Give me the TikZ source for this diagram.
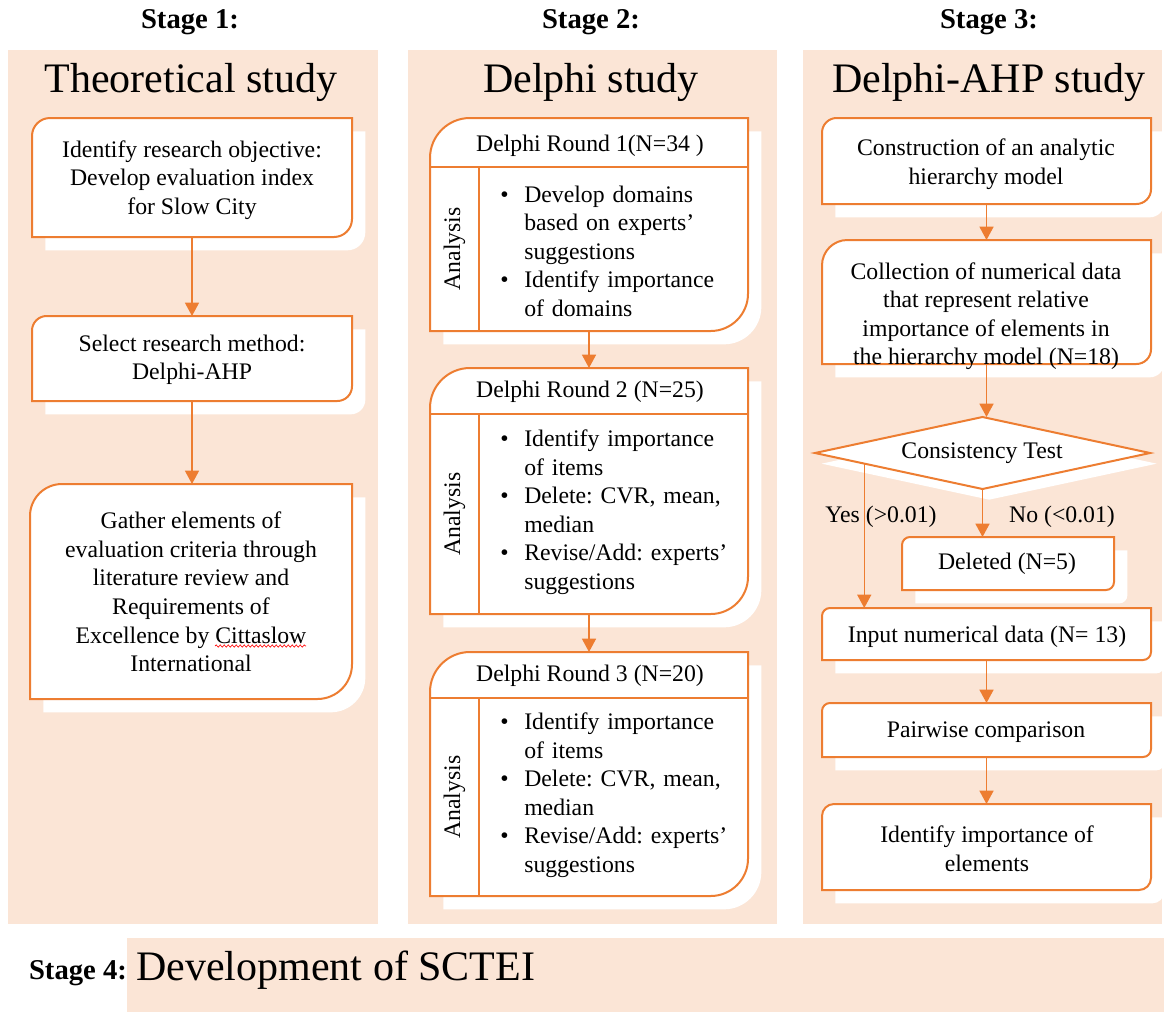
\documentclass[tikz,border=0pt]{standalone}
\usepackage{fontspec}
\setmainfont{Liberation Serif}
\frenchspacing
\usetikzlibrary{arrows.meta,calc,fit,decorations.pathmorphing}
\definecolor{orng}{HTML}{ED7D31}
\definecolor{pinkbg}{HTML}{FBE5D6}
% diagonal-rounded box path: #1 node, #2 top-left radius, #3 bottom-right radius, #4/#5 shift
\newcommand\dpath[5]{([shift={(#4,#5)}]#1.south west) -- ([shift={(#4,#5-#2)}]#1.north west) arc[start angle=180,end angle=90,radius=#2] -- ([shift={(#4,#5)}]#1.north east) -- ([shift={(#4,#5+#3)}]#1.south east) arc[start angle=0,end angle=-90,radius=#3] -- cycle}
\newcommand\mkbox[3]{\fill[white] \dpath{#1}{#2}{#3}{10pt}{-10pt}; \draw[bx] \dpath{#1}{#2}{#3}{0pt}{0pt};}
\newcommand\bitem[1]{\hangindent=18pt\hangafter=1\noindent\makebox[18pt][l]{\textbullet}#1\par}
\tikzset{
  bx/.style={draw=orng, line width=1.5pt, fill=white},
  sep/.style={draw=orng, line width=1.5pt},
  region/.style={inner sep=0pt, outer sep=0pt},
  con/.style={draw=orng, line width=1.1pt, -{Triangle[width=10.5pt,length=10pt]}},
  txt/.style={align=center, font=\fontsize{17.8}{21.4}\selectfont, inner sep=0pt},
  itm/.style={anchor=west, text width=200pt, align=left, font=\fontsize{17.8}{21.4}\selectfont, inner sep=0pt},
  stg/.style={font=\fontsize{21.5}{26}\selectfont\bfseries, inner sep=0pt},
  ttl/.style={font=\fontsize{31.5}{38}\selectfont, inner sep=0pt}
}
\begin{document}
\begin{tikzpicture}[x=0.75pt,y=-0.75pt]
\useasboundingbox (0,0) rectangle (1166,1014);
% panels
\fill[pinkbg] (8,50) rectangle (378,924);
\fill[pinkbg] (408,50) rectangle (777,924);
\fill[pinkbg] (803,50) rectangle (1162,924);
\fill[pinkbg] (127,938) rectangle (1164,1012);
% stage labels and titles
\node[stg] (s1) at (190,22) {Stage 1:};
\node[stg] (s2) at (591,22) {Stage 2:};
\node[stg] (s3) at (989,22) {Stage 3:};
\node[stg] (s4) at (78,973) {Stage 4:};
\node[ttl] (t1) at (191,82) {Theoretical study};
\node[ttl] (t2) at (591,82) {Delphi study};
\node[ttl] (t3) at (989,82) {Delphi-AHP study};
\node[ttl, anchor=west] (t4) at (136,970) {Development of SCTEI};
% ---------- Stage 1
\node[region, fit={(32,118) (352,237)}] (b1) {};
\node[region, fit={(32,316) (352,401)}] (b2) {};
\node[region, fit={(30,484) (352,699)}] (b3) {};
\mkbox{b1}{13.5pt}{13.5pt}
\mkbox{b2}{11pt}{11pt}
\mkbox{b3}{24pt}{26pt}
\node[txt] (b1t) at (192,180) {Identify research objective:\\Develop evaluation index\\for Slow City};
\node[txt] (b2t) at (192,360) {Select research method:\\Delphi-AHP};
\node[txt] (b3t) at (191,592) {Gather elements of\\evaluation criteria through\\literature review and\\Requirements of\\Excellence by Cittaslow\\International};
\draw[red, line width=0.5pt, decorate, decoration={snake, amplitude=0.8pt, segment length=3pt}] (215,646) -- (306,646);
\draw[con] (b1.south) -- (b2.north);
\draw[con] (b2.south) -- (b2.south |- b3.north);
% ---------- Stage 2
\node[region, fit={(430,118) (748,331)}] (R1) {};
\node[region, fit={(430,368) (748,614)}] (R2) {};
\node[region, fit={(430,652) (748,896)}] (R3) {};
\mkbox{R1}{30pt}{28pt}
\mkbox{R2}{30pt}{28pt}
\mkbox{R3}{30pt}{28pt}
\node[region, fit={(430,118) (748,167)}] (R1h) {};
\node[region, fit={(430,368) (748,414)}] (R2h) {};
\node[region, fit={(430,652) (748,698)}] (R3h) {};
\node[region, fit={(430,167) (479,331)}] (R1a) {};
\node[region, fit={(430,414) (479,614)}] (R2a) {};
\node[region, fit={(430,698) (479,896)}] (R3a) {};
\foreach \r in {R1,R2,R3}{
  \draw[sep] (\r h.south west) -- (\r h.south east);
  \draw[sep] (\r a.north east) -- (\r a.south east);
  \node[txt, rotate=90] (\r lab) at (\r a.center) {Analysis};
}
\node[txt] (R1t) at (590,146) {Delphi Round 1(N=34 )};
\node[txt] (R2t) at (590,392) {Delphi Round 2 (N=25)};
\node[txt] (R3t) at (590,676) {Delphi Round 3 (N=20)};
\node[itm] (R1i) at (500,251) {\bitem{Develop domains\newline based on experts'\newline suggestions}\bitem{Identify importance\newline of domains}};
\node[itm] (R2i) at (500,512) {\bitem{Identify importance\newline of items}\bitem{Delete: CVR, mean,\newline median}\bitem{Revise/Add: experts'\newline suggestions}};
\node[itm] (R3i) at (500,795) {\bitem{Identify importance\newline of items}\bitem{Delete: CVR, mean,\newline median}\bitem{Revise/Add: experts'\newline suggestions}};
\draw[con] (R1.south) -- (R2.north);
\draw[con] (R2.south) -- (R3.north);
% ---------- Stage 3
\node[region, fit={(822,118) (1151,204)}] (c1) {};
\node[region, fit={(822,240) (1151,364)}] (c2) {};
\node[region, fit={(815,417) (1150,489)}] (dia) {};
\node[region, fit={(902,537) (1114,590)}] (del) {};
\node[region, fit={(822,608) (1151,660)}] (inp) {};
\node[region, fit={(822,703) (1151,757)}] (pw) {};
\node[region, fit={(822,804) (1151,890)}] (idf) {};
\mkbox{c1}{11pt}{11pt}
\mkbox{c2}{19pt}{11pt}
\fill[white] ([shift={(5pt,-8pt)}]dia.west) -- ([shift={(5pt,-8pt)}]dia.north) -- ([shift={(5pt,-8pt)}]dia.east) -- ([shift={(5pt,-8pt)}]dia.south) -- cycle;
\draw[bx] (dia.west) -- (dia.north) -- (dia.east) -- (dia.south) -- cycle;
\mkbox{del}{6pt}{6pt}
\mkbox{inp}{6pt}{6pt}
\mkbox{pw}{6pt}{6pt}
\mkbox{idf}{9pt}{9pt}
\node[txt] (c1t) at (986,164) {Construction of an analytic\\hierarchy model};
\node[txt] (c2t) at (986,316) {Collection of numerical data\\that represent relative\\importance of elements in\\the hierarchy model (N=18)};
\node[txt] (diat) at (982,453) {Consistency Test};
\node[txt] (delt) at (1007,564) {Deleted (N=5)};
\node[txt] (inpt) at (987,637) {Input numerical data (N= 13)};
\node[txt] (pwt) at (986,732) {Pairwise comparison};
\node[txt] (idft) at (987,849) {Identify importance of\\elements};
\node[txt] (yes) at (881,517) {Yes (>0.01)};
\node[txt] (no) at (1062,517) {No (<0.01)};
\coordinate (ys) at ($(dia.west)!0.294!(dia.south)$);
\draw[con] (c1.south) -- (c1.south |- c2.north);
\draw[con] (c2.south) -- (c2.south |- dia.north);
\draw[con] (dia.south) -- (dia.south |- del.north);
\draw[con] (ys) -- (ys |- inp.north);
\draw[con] (inp.south) -- (pw.north);
\draw[con] (pw.south) -- (idf.north);
\end{tikzpicture}
\end{document}
